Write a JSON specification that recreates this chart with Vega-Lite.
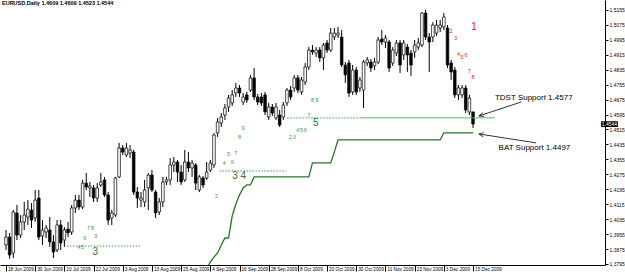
{
"$schema": "https://vega.github.io/schema/vega-lite/v6.json",
"width": 605, "height": 265,
"autosize": {"type": "none"},
"padding": {"left": 0, "top": 0, "right": 20, "bottom": 9},
"background": "white",
"config": {"view": {"stroke": null}, "font": "Liberation Sans", "axis": {"labelOverlap": false, "labelFlush": false, "labelBound": false, "grid": false}},
"title": {"text": "EURUSD,Daily  1.4609 1.4609 1.4523 1.4544", "anchor": "start", "frame": "group", "offset": -6, "fontSize": 5.5, "fontWeight": "bold", "color": "#000", "dx": 2},
"resolve": {"axis": {"x": "independent", "y": "independent"}},
"datasets": {
"candles": [
{"i":0,"o":1.3897,"h":1.3977,"l":1.3870,"c":1.3939},
{"i":1,"o":1.3939,"h":1.3961,"l":1.3822,"c":1.3843},
{"i":2,"o":1.3854,"h":1.4084,"l":1.3827,"c":1.4073},
{"i":3,"o":1.4068,"h":1.4111,"l":1.3923,"c":1.3950},
{"i":4,"o":1.3950,"h":1.4057,"l":1.3934,"c":1.4020},
{"i":5,"o":1.4020,"h":1.4127,"l":1.3977,"c":1.4057},
{"i":6,"o":1.4046,"h":1.4137,"l":1.4004,"c":1.4089},
{"i":7,"o":1.4084,"h":1.4121,"l":1.3988,"c":1.4030},
{"i":8,"o":1.4041,"h":1.4191,"l":1.4020,"c":1.4137},
{"i":9,"o":1.4148,"h":1.4191,"l":1.3923,"c":1.3939},
{"i":10,"o":1.3945,"h":1.4030,"l":1.3897,"c":1.3977},
{"i":11,"o":1.3966,"h":1.4004,"l":1.3934,"c":1.3988},
{"i":12,"o":1.3977,"h":1.4046,"l":1.3886,"c":1.3913},
{"i":13,"o":1.3913,"h":1.3950,"l":1.3827,"c":1.3859},
{"i":14,"o":1.3870,"h":1.4030,"l":1.3859,"c":1.4004},
{"i":15,"o":1.4004,"h":1.4030,"l":1.3870,"c":1.3907},
{"i":16,"o":1.3923,"h":1.3993,"l":1.3886,"c":1.3977},
{"i":17,"o":1.3982,"h":1.4020,"l":1.3939,"c":1.3961},
{"i":18,"o":1.3966,"h":1.4111,"l":1.3950,"c":1.4095},
{"i":19,"o":1.4095,"h":1.4164,"l":1.4068,"c":1.4137},
{"i":20,"o":1.4137,"h":1.4164,"l":1.4084,"c":1.4100},
{"i":21,"o":1.4100,"h":1.4245,"l":1.4089,"c":1.4228},
{"i":22,"o":1.4228,"h":1.4282,"l":1.4191,"c":1.4207},
{"i":23,"o":1.4202,"h":1.4234,"l":1.4154,"c":1.4212},
{"i":24,"o":1.4202,"h":1.4218,"l":1.4127,"c":1.4148},
{"i":25,"o":1.4148,"h":1.4228,"l":1.4127,"c":1.4202},
{"i":26,"o":1.4218,"h":1.4282,"l":1.4207,"c":1.4234},
{"i":27,"o":1.4245,"h":1.4261,"l":1.4154,"c":1.4164},
{"i":28,"o":1.4164,"h":1.4180,"l":1.4004,"c":1.4030},
{"i":29,"o":1.4041,"h":1.4084,"l":1.4004,"c":1.4068},
{"i":30,"o":1.4057,"h":1.4261,"l":1.4046,"c":1.4255},
{"i":31,"o":1.4261,"h":1.4443,"l":1.4255,"c":1.4416},
{"i":32,"o":1.4416,"h":1.4432,"l":1.4378,"c":1.4394},
{"i":33,"o":1.4378,"h":1.4443,"l":1.4368,"c":1.4416},
{"i":34,"o":1.4389,"h":1.4432,"l":1.4362,"c":1.4405},
{"i":35,"o":1.4394,"h":1.4405,"l":1.4164,"c":1.4180},
{"i":36,"o":1.4180,"h":1.4207,"l":1.4095,"c":1.4148},
{"i":37,"o":1.4137,"h":1.4180,"l":1.4100,"c":1.4148},
{"i":38,"o":1.4127,"h":1.4245,"l":1.4100,"c":1.4191},
{"i":39,"o":1.4202,"h":1.4282,"l":1.4084,"c":1.4271},
{"i":40,"o":1.4271,"h":1.4298,"l":1.4180,"c":1.4191},
{"i":41,"o":1.4180,"h":1.4191,"l":1.4041,"c":1.4068},
{"i":42,"o":1.4073,"h":1.4148,"l":1.4057,"c":1.4127},
{"i":43,"o":1.4127,"h":1.4261,"l":1.4100,"c":1.4234},
{"i":44,"o":1.4234,"h":1.4261,"l":1.4218,"c":1.4245},
{"i":45,"o":1.4245,"h":1.4362,"l":1.4218,"c":1.4325},
{"i":46,"o":1.4325,"h":1.4368,"l":1.4287,"c":1.4341},
{"i":47,"o":1.4341,"h":1.4352,"l":1.4234,"c":1.4287},
{"i":48,"o":1.4287,"h":1.4325,"l":1.4218,"c":1.4234},
{"i":49,"o":1.4245,"h":1.4405,"l":1.4234,"c":1.4341},
{"i":50,"o":1.4341,"h":1.4394,"l":1.4287,"c":1.4309},
{"i":51,"o":1.4309,"h":1.4352,"l":1.4261,"c":1.4335},
{"i":52,"o":1.4325,"h":1.4335,"l":1.4191,"c":1.4228},
{"i":53,"o":1.4191,"h":1.4271,"l":1.4180,"c":1.4261},
{"i":54,"o":1.4255,"h":1.4266,"l":1.4202,"c":1.4218},
{"i":55,"o":1.4255,"h":1.4341,"l":1.4245,"c":1.4287},
{"i":56,"o":1.4298,"h":1.4352,"l":1.4287,"c":1.4335},
{"i":57,"o":1.4325,"h":1.4496,"l":1.4309,"c":1.4485},
{"i":58,"o":1.4496,"h":1.4576,"l":1.4475,"c":1.4555},
{"i":59,"o":1.4550,"h":1.4603,"l":1.4528,"c":1.4582},
{"i":60,"o":1.4592,"h":1.4651,"l":1.4566,"c":1.4630},
{"i":61,"o":1.4635,"h":1.4700,"l":1.4609,"c":1.4683},
{"i":62,"o":1.4657,"h":1.4726,"l":1.4641,"c":1.4700},
{"i":63,"o":1.4710,"h":1.4764,"l":1.4689,"c":1.4737},
{"i":64,"o":1.4737,"h":1.4753,"l":1.4689,"c":1.4710},
{"i":65,"o":1.4662,"h":1.4710,"l":1.4646,"c":1.4689},
{"i":66,"o":1.4700,"h":1.4716,"l":1.4657,"c":1.4673},
{"i":67,"o":1.4726,"h":1.4807,"l":1.4716,"c":1.4791},
{"i":68,"o":1.4791,"h":1.4844,"l":1.4673,"c":1.4689},
{"i":69,"o":1.4689,"h":1.4705,"l":1.4646,"c":1.4662},
{"i":70,"o":1.4689,"h":1.4710,"l":1.4641,"c":1.4657},
{"i":71,"o":1.4700,"h":1.4716,"l":1.4592,"c":1.4609},
{"i":72,"o":1.4582,"h":1.4657,"l":1.4566,"c":1.4635},
{"i":73,"o":1.4635,"h":1.4651,"l":1.4587,"c":1.4603},
{"i":74,"o":1.4576,"h":1.4657,"l":1.4566,"c":1.4635},
{"i":75,"o":1.4592,"h":1.4619,"l":1.4528,"c":1.4539},
{"i":76,"o":1.4582,"h":1.4662,"l":1.4566,"c":1.4646},
{"i":77,"o":1.4657,"h":1.4737,"l":1.4641,"c":1.4726},
{"i":78,"o":1.4726,"h":1.4748,"l":1.4673,"c":1.4689},
{"i":79,"o":1.4737,"h":1.4807,"l":1.4716,"c":1.4791},
{"i":80,"o":1.4791,"h":1.4807,"l":1.4710,"c":1.4726},
{"i":81,"o":1.4716,"h":1.4796,"l":1.4700,"c":1.4780},
{"i":82,"o":1.4769,"h":1.4871,"l":1.4753,"c":1.4849},
{"i":83,"o":1.4849,"h":1.4956,"l":1.4833,"c":1.4940},
{"i":84,"o":1.4940,"h":1.4967,"l":1.4914,"c":1.4930},
{"i":85,"o":1.4924,"h":1.4956,"l":1.4903,"c":1.4940},
{"i":86,"o":1.4940,"h":1.4956,"l":1.4876,"c":1.4898},
{"i":87,"o":1.4898,"h":1.4978,"l":1.4833,"c":1.4967},
{"i":88,"o":1.4978,"h":1.4994,"l":1.4924,"c":1.4940},
{"i":89,"o":1.4940,"h":1.5058,"l":1.4930,"c":1.5031},
{"i":90,"o":1.5010,"h":1.5058,"l":1.4994,"c":1.5031},
{"i":91,"o":1.5021,"h":1.5064,"l":1.5005,"c":1.5031},
{"i":92,"o":1.5010,"h":1.5047,"l":1.4849,"c":1.4860},
{"i":93,"o":1.4860,"h":1.4876,"l":1.4764,"c":1.4807},
{"i":94,"o":1.4871,"h":1.4887,"l":1.4689,"c":1.4710},
{"i":95,"o":1.4716,"h":1.4860,"l":1.4700,"c":1.4833},
{"i":96,"o":1.4833,"h":1.4849,"l":1.4700,"c":1.4716},
{"i":97,"o":1.4737,"h":1.4796,"l":1.4716,"c":1.4780},
{"i":98,"o":1.4726,"h":1.4887,"l":1.4630,"c":1.4876},
{"i":99,"o":1.4871,"h":1.4903,"l":1.4855,"c":1.4887},
{"i":100,"o":1.4876,"h":1.4892,"l":1.4823,"c":1.4844},
{"i":101,"o":1.4855,"h":1.4898,"l":1.4833,"c":1.4876},
{"i":102,"o":1.4876,"h":1.5010,"l":1.4865,"c":1.4994},
{"i":103,"o":1.4999,"h":1.5047,"l":1.4967,"c":1.4983},
{"i":104,"o":1.4983,"h":1.5021,"l":1.4951,"c":1.5005},
{"i":105,"o":1.4983,"h":1.4994,"l":1.4823,"c":1.4844},
{"i":106,"o":1.4871,"h":1.4956,"l":1.4855,"c":1.4940},
{"i":107,"o":1.4924,"h":1.4994,"l":1.4908,"c":1.4978},
{"i":108,"o":1.4978,"h":1.4994,"l":1.4817,"c":1.4860},
{"i":109,"o":1.4914,"h":1.4994,"l":1.4887,"c":1.4978},
{"i":110,"o":1.4956,"h":1.4972,"l":1.4823,"c":1.4914},
{"i":111,"o":1.4924,"h":1.4940,"l":1.4801,"c":1.4860},
{"i":112,"o":1.4930,"h":1.4994,"l":1.4898,"c":1.4967},
{"i":113,"o":1.4956,"h":1.5005,"l":1.4940,"c":1.4978},
{"i":114,"o":1.4967,"h":1.5144,"l":1.4956,"c":1.5138},
{"i":115,"o":1.5138,"h":1.5155,"l":1.4994,"c":1.5010},
{"i":116,"o":1.5010,"h":1.5031,"l":1.4823,"c":1.4983},
{"i":117,"o":1.5010,"h":1.5090,"l":1.4983,"c":1.5074},
{"i":118,"o":1.5031,"h":1.5101,"l":1.5015,"c":1.5074},
{"i":119,"o":1.5058,"h":1.5101,"l":1.5037,"c":1.5074},
{"i":120,"o":1.5064,"h":1.5138,"l":1.5047,"c":1.5117},
{"i":121,"o":1.5058,"h":1.5074,"l":1.4844,"c":1.4860},
{"i":122,"o":1.4871,"h":1.4887,"l":1.4780,"c":1.4823},
{"i":123,"o":1.4833,"h":1.4849,"l":1.4683,"c":1.4700},
{"i":124,"o":1.4700,"h":1.4753,"l":1.4673,"c":1.4737},
{"i":125,"o":1.4700,"h":1.4753,"l":1.4683,"c":1.4737},
{"i":126,"o":1.4737,"h":1.4753,"l":1.4603,"c":1.4619},
{"i":127,"o":1.4609,"h":1.4700,"l":1.4592,"c":1.4683},
{"i":128,"o":1.4609,"h":1.4609,"l":1.4523,"c":1.4544}
],
"bat": [
{"i":55,"p":1.3763},{"i":56,"p":1.3806},{"i":57,"p":1.3832},{"i":58,"p":1.3854},{"i":59,"p":1.3897},{"i":60,"p":1.3934},{"i":61,"p":1.3934},{"i":62,"p":1.4052},{"i":63,"p":1.4116},{"i":64,"p":1.4164},{"i":65,"p":1.4202},{"i":66,"p":1.4218},{"i":67,"p":1.4218},{"i":68,"p":1.4261},{"i":83,"p":1.4261},{"i":84,"p":1.4336},{"i":89,"p":1.4336},{"i":90,"p":1.4395},{"i":91,"p":1.4459},{"i":119,"p":1.4459},{"i":120,"p":1.4497},{"i":128,"p":1.4497}
],
"tdstDotted": [
{"from":16.7,"to":36.7,"p":1.3891},
{"from":58.5,"to":76.8,"p":1.4293},
{"from":77.1,"to":96.8,"p":1.4577}
],
"tdstSolid": [
{"from":96.8,"to":134,"p":1.4577}
],
"greenCounts": [
{"i":20,"p":1.3886,"t":"4"},{"i":21,"p":1.3886,"t":"5"},{"i":21.6,"p":1.3934,"t":"6"},{"i":22.6,"p":1.3988,"t":"7"},{"i":23.7,"p":1.3988,"t":"8"},{"i":24.6,"p":1.3945,"t":"9"},
{"i":57.7,"p":1.4159,"t":"2"},{"i":59.8,"p":1.4335,"t":"4"},{"i":61,"p":1.4384,"t":"5"},{"i":62,"p":1.4341,"t":"6"},{"i":63,"p":1.4389,"t":"7"},{"i":64,"p":1.4475,"t":"8"},{"i":65,"p":1.4523,"t":"9"},
{"i":78,"p":1.4475,"t":"2"},{"i":79,"p":1.4475,"t":"3"},{"i":80,"p":1.4512,"t":"4"},{"i":81,"p":1.4512,"t":"5"},{"i":82,"p":1.4512,"t":"6"},{"i":83,"p":1.4592,"t":"7"},{"i":84,"p":1.4673,"t":"8"},{"i":85.2,"p":1.4673,"t":"9"}
],
"redCounts": [
{"i":122,"p":1.5042,"t":"2"},{"i":123.2,"p":1.5005,"t":"3"},{"i":124,"p":1.4919,"t":"4"},{"i":125,"p":1.4903,"t":"5"},{"i":126.1,"p":1.4914,"t":"6"},{"i":127,"p":1.4828,"t":"7"},{"i":128,"p":1.4796,"t":"8"}
],
"bigGreen": [
{"i":24.5,"p":1.3859,"t":"3"},{"i":63.9,"p":1.4266,"t":"3 4"},{"i":84.9,"p":1.4550,"t":"5"}
],
"bigRed": [
{"i":128.3,"p":1.5064,"t":"1"}
],
"notes": [
{"i":134,"p":1.4683,"t":"TDST Support 1.4577"},
{"i":135,"p":1.4416,"t":"BAT Support 1.4497"}
],
"arrows": [
{"name":"tdst","i1":129.6,"p1":1.4587,"i2":141.2,"p2":1.4662},
{"name":"bat","i1":129.6,"p1":1.4491,"i2":145.3,"p2":1.4443}
],
"priceBox": [
{"i1":163.1,"i2":167.7,"p1":1.4528,"p2":1.4559,"im":165.4,"p":1.4544,"t":"1.4544"}
]
},
"layer": [
{"data":{"name":"candles"},"mark":{"type":"rule","color":"#000","strokeWidth":1},
 "encoding":{
  "x":{"field":"i","type":"quantitative","scale":{"domain":[-0.27,162.8],"nice":false,"zero":false},
   "axis":{"title":null,"values":[0,8,16,24,32,40,48,56,64,72,80,88,96,104,112,120,128],
    "labelExpr":"['18 Jun 2009','30 Jun 2009','10 Jul 2009','22 Jul 2009','3 Aug 2009','13 Aug 2009','25 Aug 2009','4 Sep 2009','16 Sep 2009','28 Sep 2009','8 Oct 2009','20 Oct 2009','30 Oct 2009','11 Nov 2009','23 Nov 2009','3 Dec 2009','15 Dec 2009'][round(datum.value/8)]",
    "labelAlign":"left","labelOffset":1.5,"labelBaseline":"top","labelPadding":-5,"tickSize":6,"labelFontSize":4.7,"labelColor":"#000","tickColor":"#000","domainColor":"#000","grid":false,"labelOverlap":false,"labelFlush":false,"labelBound":false}},
  "y":{"field":"l","type":"quantitative","scale":{"domain":[1.37895,1.5208],"nice":false,"zero":false},
   "axis":{"title":null,"orient":"right","values":[1.3795,1.3875,1.3955,1.4035,1.4115,1.4195,1.4275,1.4355,1.4435,1.4515,1.4595,1.4675,1.4755,1.4835,1.4915,1.4995,1.5075,1.5155],
    "format":".4f","labelFontSize":5,"labelColor":"#000","tickSize":3,"labelPadding":1,"tickColor":"#000","domainColor":"#000","grid":false,"labelOverlap":false,"labelFlush":false,"labelBound":false}},
  "y2":{"field":"h"}}},
{"data":{"name":"candles"},"mark":{"type":"bar","size":2.6,"stroke":"#000","strokeWidth":0.7},
 "encoding":{"x":{"field":"i","type":"quantitative","axis":null},"y":{"field":"o","type":"quantitative","axis":null},"y2":{"field":"c"},
  "fill":{"condition":{"test":"datum.c > datum.o","value":"#ffffff"},"value":"#000000"}}},
{"data":{"name":"bat"},"mark":{"type":"line","color":"#1f7a1f","strokeWidth":1.3,"clip":true},
 "encoding":{"x":{"field":"i","type":"quantitative","axis":null},"y":{"field":"p","type":"quantitative","axis":null}}},
{"data":{"name":"tdstDotted"},"mark":{"type":"rule","color":"#3f9f3f","strokeWidth":1,"strokeDash":[1.5,1.5]},
 "encoding":{"x":{"field":"from","type":"quantitative","axis":null},"x2":{"field":"to"},"y":{"field":"p","type":"quantitative","axis":null}}},
{"data":{"name":"tdstSolid"},"mark":{"type":"rule","color":"#5cb85c","strokeWidth":1},
 "encoding":{"x":{"field":"from","type":"quantitative","axis":null},"x2":{"field":"to"},"y":{"field":"p","type":"quantitative","axis":null}}},
{"data":{"name":"greenCounts"},"mark":{"type":"text","color":"#3a9a3a","fontSize":5.5,"baseline":"middle","align":"center"},
 "encoding":{"x":{"field":"i","type":"quantitative","axis":null},"y":{"field":"p","type":"quantitative","axis":null},"text":{"field":"t"}}},
{"data":{"name":"redCounts"},"mark":{"type":"text","color":"#e02020","fontSize":5.5,"baseline":"middle","align":"center"},
 "encoding":{"x":{"field":"i","type":"quantitative","axis":null},"y":{"field":"p","type":"quantitative","axis":null},"text":{"field":"t"}}},
{"data":{"name":"bigGreen"},"mark":{"type":"text","color":"#1f7a1f","fontSize":10,"baseline":"middle","align":"center"},
 "encoding":{"x":{"field":"i","type":"quantitative","axis":null},"y":{"field":"p","type":"quantitative","axis":null},"text":{"field":"t"}}},
{"data":{"name":"bigRed"},"mark":{"type":"text","color":"#e02020","fontSize":10,"baseline":"middle","align":"center"},
 "encoding":{"x":{"field":"i","type":"quantitative","axis":null},"y":{"field":"p","type":"quantitative","axis":null},"text":{"field":"t"}}},
{"data":{"name":"notes"},"mark":{"type":"text","color":"#000","fontSize":8,"baseline":"middle","align":"left"},
 "encoding":{"x":{"field":"i","type":"quantitative","axis":null},"y":{"field":"p","type":"quantitative","axis":null},"text":{"field":"t"}}},
{"data":{"name":"arrows"},"mark":{"type":"rule","color":"#000","strokeWidth":0.8},
 "encoding":{"x":{"field":"i1","type":"quantitative","axis":null},"x2":{"field":"i2"},"y":{"field":"p1","type":"quantitative","axis":null},"y2":{"field":"p2"}}},
{"data":{"name":"arrows"},"transform":[{"filter":"datum.name == 'tdst'"}],
 "mark":{"type":"point","shape":"M0,0L-0.7,1.6M0,0L0.7,1.6","filled":false,"stroke":"#000","strokeWidth":1,"size":36,"angle":252},
 "encoding":{"x":{"field":"i1","type":"quantitative","axis":null},"y":{"field":"p1","type":"quantitative","axis":null}}},
{"data":{"name":"arrows"},"transform":[{"filter":"datum.name == 'bat'"}],
 "mark":{"type":"point","shape":"M0,0L-0.7,1.6M0,0L0.7,1.6","filled":false,"stroke":"#000","strokeWidth":1,"size":36,"angle":279},
 "encoding":{"x":{"field":"i1","type":"quantitative","axis":null},"y":{"field":"p1","type":"quantitative","axis":null}}},
{"data":{"name":"priceBox"},"mark":{"type":"rect","color":"#000"},
 "encoding":{"x":{"field":"i1","type":"quantitative","axis":null},"x2":{"field":"i2"},"y":{"field":"p1","type":"quantitative","axis":null},"y2":{"field":"p2"}}},
{"data":{"name":"priceBox"},"mark":{"type":"text","color":"#fff","fontSize":5,"baseline":"middle","align":"center"},
 "encoding":{"x":{"field":"im","type":"quantitative","axis":null},"y":{"field":"p","type":"quantitative","axis":null},"text":{"field":"t"}}}
]
}
